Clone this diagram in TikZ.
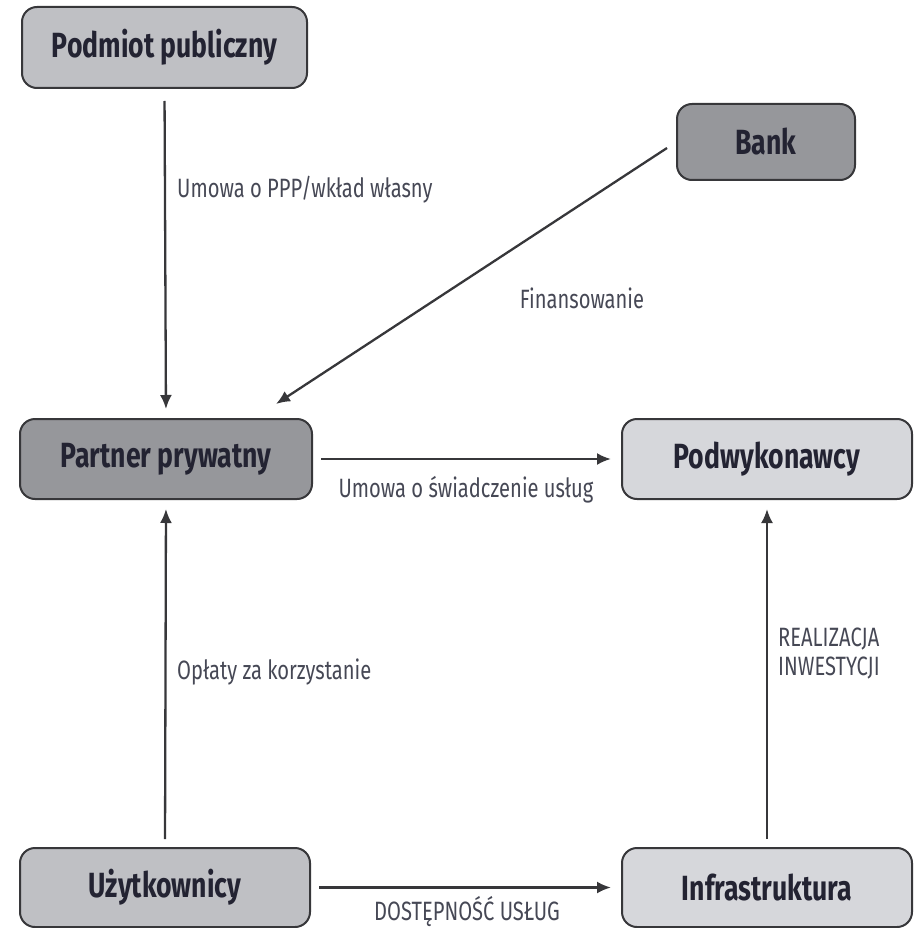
\documentclass[tikz,border=0pt]{standalone}
\usepackage{fontspec}
\setmainfont{Fira Sans}[FakeStretch=0.76]
\usetikzlibrary{arrows.meta}
\definecolor{boxlight}{RGB}{214,215,219}
\definecolor{boxmid}{RGB}{191,192,196}
\definecolor{boxdark}{RGB}{150,151,155}
\definecolor{edgec}{RGB}{55,55,58}
\definecolor{txtc}{RGB}{35,35,50}
\definecolor{lblc}{RGB}{70,72,85}
\begin{document}
\begin{tikzpicture}[x=1pt,y=-1pt,
  box/.style={draw=edgec, line width=2pt, rounded corners=15pt, minimum height=80pt,
    minimum width=290pt, inner sep=0pt, text=txtc, font=\fontsize{35}{38}\selectfont\bfseries},
  arr/.style={draw=edgec, line width=2.3pt, -{Latex[length=14pt,width=12pt]}},
  lbl/.style={text=lblc, font=\fontsize{26.5}{29}\selectfont, inner sep=0pt}]
\useasboundingbox (0,0) rectangle (913,928);
\node[box, fill=boxmid, minimum width=285pt, minimum height=81pt] (pub) at (164.5,47.5) {Podmiot publiczny};
\node[box, fill=boxdark, minimum width=178pt, minimum height=76pt] (bank) at (766,142) {Bank};
\node[box, fill=boxdark, minimum width=292pt] (part) at (166,459) {Partner prywatny};
\node[box, fill=boxlight] (podw) at (767,459) {Podwykonawcy};
\node[box, fill=boxmid, minimum height=79pt] (uzyt) at (165,887.5) {Użytkownicy};
\node[box, fill=boxlight, minimum height=79pt] (infra) at (767,887.5) {Infrastruktura};

\draw[arr, shorten <=12pt, shorten >=9pt] (pub.south) -- (part.north);
\draw[arr] ([xshift=-9pt,yshift=-6pt]bank.west) -- ([xshift=-37pt,yshift=14pt]part.north east);
\draw[arr, shorten <=8pt, shorten >=10pt] (part.east) -- (podw.west);
\draw[arr, shorten <=8pt, shorten >=9pt] (uzyt.north) -- (part.south);
\draw[arr, shorten <=8pt, shorten >=9pt] (infra.north) -- (podw.south);
\draw[arr, shorten <=8pt, shorten >=10pt] (uzyt.east) -- (infra.west);

\node[lbl, anchor=west] (l1) at (177,190) {Umowa o PPP/wkład własny};
\node[lbl] (l2) at (582,298) {Finansowanie};
\node[lbl] (l3) at (466,490) {Umowa o świadczenie usług};
\node[lbl, anchor=west] (l4) at (177,672) {Opłaty za korzystanie};
\node[lbl, anchor=west, align=left] (l5) at (778,654) {REALIZACJA\\INWESTYCJI};
\node[lbl] (l6) at (467,911) {DOSTĘPNOŚĆ USŁUG};
\end{tikzpicture}
\end{document}
